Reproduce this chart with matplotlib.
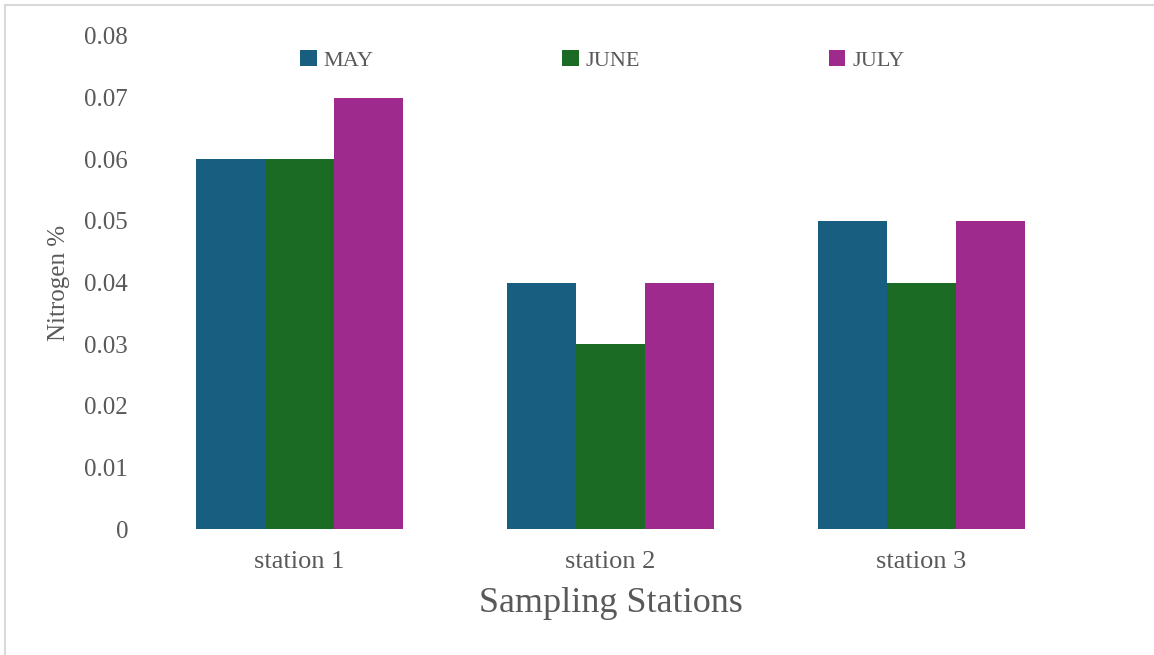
import matplotlib.pyplot as plt
import numpy as np
from matplotlib.patches import Rectangle

# nitrogen content (%) per sampling station and month
stations = ["station 1", "station 2", "station 3"]
months = ["MAY", "JUNE", "JULY"]
may = [0.06, 0.04, 0.05]
june = [0.06, 0.03, 0.04]
july = [0.07, 0.04, 0.05]
yticks = [0.0, 0.01, 0.02, 0.03, 0.04, 0.05, 0.06, 0.07, 0.08]

colors = ["#175e80", "#1c6b25", "#9e2a8e"]
text_color = "#595959"
font = "Liberation Serif"

fig = plt.figure(figsize=(11.54, 6.55), dpi=100)
W, H = 1154, 655
ax = fig.add_axes([144 / W, 1 - 529 / H, (1077 - 144) / W, (529 - 36) / H])

# chart-area border (top and left edges show)
fig.add_artist(Rectangle((5 / W, -0.1), 1.2, 1 - 5 / H + 0.1, transform=fig.transFigure,
                         fill=False, edgecolor="#d9d9d9", lw=1.5))

x = np.arange(len(stations))
width = 207 / 311 / 3
for i, (vals, label) in enumerate(zip([may, june, july], months)):
    ax.bar(x + (i - 1) * width, vals, width, color=colors[i], label=label, lw=0)

ax.set_xlim(-0.5, len(stations) - 0.5)
ax.set_ylim(0, 0.08)
ax.set_yticks(yticks)
ax.set_yticklabels(["0" if v == 0 else f"{v:.2f}" for v in yticks],
                   family=font, fontsize=18, color=text_color)
ax.set_xticks(x)
ax.set_xticklabels(stations, family=font, fontsize=19, color=text_color)
ax.tick_params(axis="both", length=0)
ax.tick_params(axis="y", pad=11.5)
ax.tick_params(axis="x", pad=16)
for s in ax.spines.values():
    s.set_visible(False)

ax.set_xlabel("Sampling Stations", family=font, fontsize=26, color=text_color, labelpad=10)
ax.set_ylabel("Nitrogen %", family=font, fontsize=18, color=text_color, labelpad=10)

leg = ax.legend(ncol=3, loc="upper center", bbox_to_anchor=(0.491, 1.012),
                frameon=False, prop={"family": font, "size": 16},
                handlelength=0.75, handleheight=0.75, handletextpad=0.3,
                columnspacing=8.5, labelcolor=text_color)

fig.savefig("out.png", dpi=100, facecolor="white")
